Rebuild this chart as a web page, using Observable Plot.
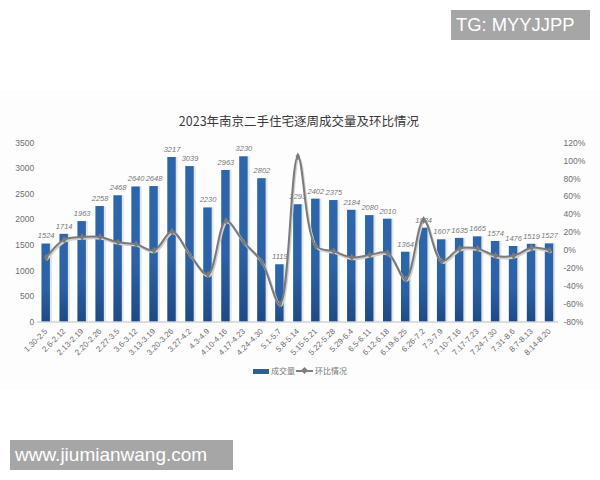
<!DOCTYPE html>
<html><head><meta charset="utf-8">
<script src="https://cdn.jsdelivr.net/npm/d3@7"></script>
<script src="https://cdn.jsdelivr.net/npm/@observablehq/plot@0.6"></script>
<style>
html,body{margin:0;padding:0;background:#fff;width:600px;height:480px;overflow:hidden;font-family:"Noto Sans CJK SC",sans-serif}
#wrap{position:relative;width:600px;height:480px;background:#fff}
#band{position:absolute;left:0;top:90px;width:600px;height:300px;background:#fdfdfd}
#chart{position:absolute;left:0;top:0}
.abs{position:absolute}
#title{left:-1px;width:600px;top:111.5px;text-align:center;font-size:12.5px;line-height:18px;color:#3a3a3a}
#tg{left:451px;top:10px;width:139px;height:30px;background:#a6a6a6;color:#fff;font:18.4px/30px "Liberation Sans",sans-serif;padding-left:5px;box-sizing:border-box}
#www{left:10px;top:440px;width:223px;height:30px;background:#a6a6a6;color:#fff;font:19px/30px "Liberation Sans",sans-serif;padding-left:5px;box-sizing:border-box}
.lg{font-size:8px;line-height:12px;color:#777;top:365px}
</style></head><body>
<div id="wrap">
<div id="band"></div>
<div id="chart"></div>
<div id="title" class="abs">2023年南京二手住宅逐周成交量及环比情况</div>
<div class="abs" style="left:253px;top:368.5px;width:16px;height:5px;background:#2c5f9e"></div>
<div class="abs lg" style="left:271px">成交量</div>
<div class="abs" style="left:296px;top:370px;width:17px;height:2px;background:#7f7f7f"></div>
<div class="abs" style="left:302px;top:368px;width:5px;height:5px;background:#7f7f7f;transform:rotate(45deg)"></div>
<div class="abs lg" style="left:315px">环比情况</div>
<div id="tg" class="abs">TG: MYYJJPP</div>
<div id="www" class="abs">www.jiumianwang.com</div>
</div>
<script>
const weeks = ["1.30-2.5","2.6-2.12","2.13-2.19","2.20-2.26","2.27-3.5","3.6-3.12","3.13-3.19","3.20-3.26","3.27-4.2","4.3-4.9","4.10-4.16","4.17-4.23","4.24-4.30","5.1-5.7","5.8-5.14","5.15-5.21","5.22-5.28","5.29-6.4","6.5-6.11","6.12-6.18","6.19-6.25","6.26-7.2","7.3-7.9","7.10-7.16","7.17-7.23","7.24-7.30","7.31-8.6","8.7-8.13","8.14-8.20"];
const volume = [1524,1714,1963,2258,2468,2640,2648,3217,3039,2230,2963,3230,2802,1119,2293,2402,2375,2184,2080,2010,1364,1834,1607,1635,1665,1574,1476,1519,1527];
const change = [-8,12,15,15,9,7,0,21,-5,-27,33,9,-13,-60,105,5,-1,-8,-5,-3,-32,34,-12,2,2,-6,-6,3,0];
const pctTicks = [-80,-60,-40,-20,0,20,40,60,80,100,120];
const volTicks = [0,500,1000,1500,2000,2500,3000,3500];
const toVol = p => (p + 80) / 200 * 3500;
const rows = weeks.map((w,i)=>({w,v:volume[i],p:change[i]}));

const gradient = () => {
  const svg = d3.create("svg:g");
  const g = svg.append("defs").append("linearGradient").attr("id","barFill").attr("x1",0).attr("x2",0).attr("y1",0).attr("y2",1);
  [[0,"#2d66ab"],[0.55,"#2c62a5"],[1,"#1d4a85"]].forEach(([o,c])=>g.append("stop").attr("offset",o).attr("stop-color",c));
  return svg.node();
};

const chart = Plot.plot({
  width:600,height:480,
  marginTop:142.5,marginBottom:158.5,marginLeft:36.7,marginRight:42,
  style:{background:"transparent",fontFamily:"'Liberation Sans',sans-serif"},
  x:{domain:weeks,label:null,paddingInner:0.53,paddingOuter:0.265,align:0.5,round:false},
  y:{domain:[0,3500],label:null},
  marks:[
    gradient,
    Plot.barY(rows,{x:"w",y:"v",fill:"#d5dae2",dx:2,fillOpacity:0.7}),
    Plot.barY(rows,{x:"w",y:"v",fill:"url(#barFill)"}),
    Plot.ruleY([0],{stroke:"#bfbfbf",strokeWidth:1}),
    Plot.axisY(volTicks,{anchor:"left",tickSize:0,tickPadding:0,label:null,fill:"#6e6e6e",fontSize:8.5,dx:-3,tickFormat:d=>String(d)}),
    Plot.axisY(pctTicks.map(toVol),{anchor:"right",tickSize:0,tickPadding:0,label:null,fill:"#6e6e6e",fontSize:8.5,dx:5,tickFormat:(d,i)=>pctTicks[i]+"%"}),
    Plot.axisX({tickSize:0,label:null,tickRotate:-45,fill:"#6e6e6e",fontSize:8,tickPadding:8,textAnchor:"end"}),
    Plot.text(rows,{x:"w",y:"v",text:d=>String(d.v),dy:-8,fill:"#777",fontSize:7.5,fontStyle:"italic"}),
    Plot.line(rows,{x:"w",y:d=>toVol(d.p),stroke:"#d0d0d0",strokeWidth:2.5,curve:"catmull-rom",dx:1,dy:1.5}),
    Plot.line(rows,{x:"w",y:d=>toVol(d.p),stroke:"#7b7b7b",strokeWidth:2,curve:"catmull-rom"}),
    Plot.dot(rows,{x:"w",y:d=>toVol(d.p),symbol:"diamond",r:2.4,fill:"#7b7b7b"})
  ]
});
document.getElementById("chart").appendChild(chart);
</script>
</body></html>
